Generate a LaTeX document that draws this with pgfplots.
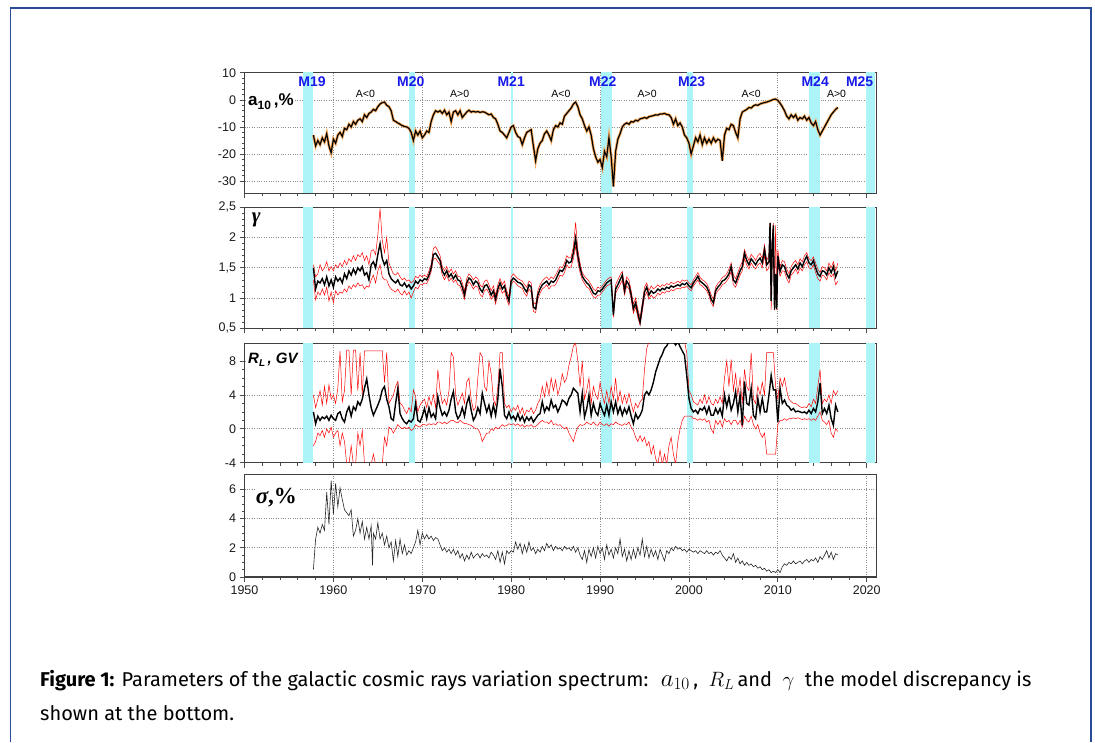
\documentclass[border=0pt]{standalone}
\usepackage{fontspec}
\setmainfont{Liberation Sans}
\newfontfamily\capfont{Fira Sans}
\newfontfamily\serif{Liberation Serif}
\usepackage{pgfplots}
\usepackage{pgfplotstable}
\pgfplotsset{compat=1.18}

\definecolor{band}{RGB}{172,244,248}
\definecolor{mblue}{RGB}{25,25,235}
\definecolor{frameblue}{RGB}{40,75,150}
\definecolor{orng}{RGB}{246,170,95}

% a10, %
\pgfplotstableread{
x y
1957.75 -13
1958.0 -17
1958.25 -15
1958.5 -16.5
1958.75 -14
1959.0 -15.5
1959.25 -12.5
1959.5 -17
1959.75 -19.5
1960.0 -14.5
1960.25 -16
1960.5 -13
1960.75 -12
1961.0 -13.5
1961.25 -10.5
1961.5 -11
1961.75 -9
1962.0 -10
1962.25 -8
1962.5 -9
1962.75 -7.5
1963.0 -7
1963.25 -8
1963.5 -5.5
1963.75 -6.5
1964.0 -5
1964.25 -4.5
1964.5 -3.5
1964.75 -4
1965.0 -2.5
1965.25 -1.5
1965.5 -1
1965.75 -0.8
1966.0 -2
1966.25 -2.5
1966.5 -4
1966.75 -7.5
1967.0 -8
1967.25 -8.5
1967.5 -9
1967.75 -9.5
1968.0 -9.8
1968.25 -10
1968.5 -10.5
1968.75 -12
1969.0 -15
1969.25 -11.5
1969.5 -13
1969.75 -11.5
1970.0 -14
1970.25 -13
1970.5 -11.5
1970.75 -12
1971.0 -8
1971.25 -5.5
1971.5 -4
1971.75 -4.5
1972.0 -4
1972.25 -5
1972.5 -3.8
1972.75 -5.5
1973.0 -4.5
1973.25 -8
1973.5 -4.5
1973.75 -4
1974.0 -5.5
1974.25 -4
1974.5 -6.5
1974.75 -5.5
1975.0 -4.5
1975.25 -3.8
1975.5 -4.5
1975.75 -4.2
1976.0 -4.5
1976.25 -4.3
1976.5 -4.6
1976.75 -4.4
1977.0 -4.5
1977.25 -5
1977.5 -5.5
1977.75 -5.2
1978.0 -6.5
1978.25 -7
1978.5 -9
1978.75 -11.5
1979.0 -12
1979.25 -13
1979.5 -14
1979.75 -12
1980.0 -10
1980.25 -9.5
1980.5 -12
1980.75 -13.5
1981.0 -14
1981.25 -16.5
1981.5 -14
1981.75 -12
1982.0 -11.5
1982.25 -11
1982.5 -17
1982.75 -22.5
1983.0 -18
1983.25 -16
1983.5 -15
1983.75 -12.5
1984.0 -11.5
1984.25 -13
1984.5 -15
1984.75 -11
1985.0 -9.5
1985.25 -10
1985.5 -8.5
1985.75 -9
1986.0 -6
1986.25 -5
1986.5 -4
1986.75 -3
1987.0 -1.5
1987.25 -0.8
1987.5 -2.5
1987.75 -5.5
1988.0 -7
1988.25 -9.5
1988.5 -11.5
1988.75 -10
1989.0 -13
1989.25 -18
1989.5 -21
1989.75 -23
1990.0 -22
1990.25 -25
1990.5 -19
1990.75 -21
1991.0 -14
1991.25 -21
1991.5 -32
1991.75 -19
1992.0 -14.5
1992.25 -12.5
1992.5 -10
1992.75 -9
1993.0 -8.5
1993.25 -9
1993.5 -8
1993.75 -8.2
1994.0 -7.5
1994.25 -7.8
1994.5 -7
1994.75 -6.8
1995.0 -6.5
1995.25 -6.8
1995.5 -6.2
1995.75 -6
1996.0 -5.8
1996.25 -5.5
1996.5 -5.6
1996.75 -5.2
1997.0 -5.2
1997.25 -5
1997.5 -5.4
1997.75 -5.5
1998.0 -6.5
1998.25 -9
1998.5 -7
1998.75 -9.5
1999.0 -8.5
1999.25 -10
1999.5 -13
1999.75 -14
2000.0 -16
2000.25 -20
2000.5 -17
2000.75 -14
2001.0 -15.5
2001.25 -13
2001.5 -16.5
2001.75 -14
2002.0 -16
2002.25 -14.5
2002.5 -16
2002.75 -14
2003.0 -15.5
2003.25 -14.5
2003.5 -15
2003.75 -22.5
2004.0 -13
2004.25 -10.5
2004.5 -11
2004.75 -9
2005.0 -9.5
2005.25 -12
2005.5 -14
2005.75 -7
2006.0 -4.5
2006.25 -4
2006.5 -3.5
2006.75 -2.8
2007.0 -3
2007.25 -2.2
2007.5 -1.8
2007.75 -2
2008.0 -1.5
2008.25 -1.2
2008.5 -1
2008.75 -0.8
2009.0 -0.5
2009.25 -0.2
2009.5 0.2
2009.75 0.3
2010.0 -0.2
2010.25 -1.2
2010.5 -2.5
2010.75 -4
2011.0 -6
2011.25 -7
2011.5 -5.5
2011.75 -6.5
2012.0 -5.5
2012.25 -7.5
2012.5 -6.5
2012.75 -7
2013.0 -6
2013.25 -7.5
2013.5 -6.5
2013.75 -8.5
2014.0 -9.5
2014.25 -8
2014.5 -11
2014.75 -13
2015.0 -11.5
2015.25 -10
2015.5 -8.5
2015.75 -7
2016.0 -5.5
2016.25 -4.5
2016.5 -3.5
2016.75 -2.8
}\tblA

% gamma: value, lower, upper
\pgfplotstableread{
x y lo hi
1957.75 1.50 1.30 1.55
1958.0 1.15 0.97 1.35
1958.25 1.28 1.10 1.40
1958.5 1.25 1.05 1.55
1958.75 1.32 1.15 1.45
1959.0 1.22 1.05 1.50
1959.25 1.35 1.18 1.60
1959.5 1.20 0.95 1.45
1959.75 1.30 1.10 1.52
1960.0 1.18 0.92 1.45
1960.25 1.35 1.12 1.55
1960.5 1.28 1.05 1.50
1960.75 1.33 1.10 1.58
1961.0 1.25 1.08 1.52
1961.25 1.40 1.15 1.62
1961.5 1.32 1.10 1.55
1961.75 1.45 1.20 1.65
1962.0 1.38 1.15 1.60
1962.25 1.48 1.22 1.70
1962.5 1.40 1.18 1.62
1962.75 1.50 1.25 1.72
1963.0 1.45 1.20 1.68
1963.25 1.52 1.22 1.75
1963.5 1.38 1.15 1.62
1963.75 1.42 1.20 1.70
1964.0 1.30 1.18 1.55
1964.25 1.55 1.30 1.78
1964.5 1.60 1.38 1.80
1964.75 1.50 1.25 1.72
1965.0 1.72 1.45 2.05
1965.25 1.90 1.55 2.48
1965.5 1.65 1.35 1.95
1965.75 1.55 1.30 1.75
1966.0 1.62 1.30 2.00
1966.25 1.40 1.20 1.58
1966.5 1.32 1.15 1.48
1966.75 1.28 1.12 1.40
1967.0 1.25 1.10 1.38
1967.25 1.30 1.15 1.42
1967.5 1.22 1.08 1.35
1967.75 1.20 1.05 1.30
1968.0 1.25 1.12 1.33
1968.25 1.18 1.05 1.28
1968.5 1.22 1.10 1.30
1968.75 1.15 1.00 1.25
1969.0 1.20 1.10 1.28
1969.25 1.28 1.18 1.36
1969.5 1.24 1.15 1.33
1969.75 1.30 1.22 1.38
1970.0 1.28 1.22 1.35
1970.25 1.32 1.25 1.38
1970.5 1.30 1.24 1.35
1970.75 1.38 1.32 1.45
1971.0 1.50 1.44 1.56
1971.25 1.72 1.65 1.82
1971.5 1.74 1.66 1.85
1971.75 1.68 1.60 1.78
1972.0 1.62 1.55 1.70
1972.25 1.45 1.38 1.52
1972.5 1.38 1.30 1.45
1972.75 1.45 1.38 1.52
1973.0 1.35 1.28 1.42
1973.25 1.40 1.33 1.48
1973.5 1.32 1.26 1.40
1973.75 1.38 1.30 1.45
1974.0 1.30 1.22 1.36
1974.25 1.28 1.20 1.35
1974.5 1.18 1.10 1.25
1974.75 1.05 0.98 1.12
1975.0 1.25 1.18 1.32
1975.25 1.33 1.27 1.40
1975.5 1.30 1.22 1.36
1975.75 1.22 1.15 1.30
1976.0 1.28 1.20 1.35
1976.25 1.25 1.18 1.32
1976.5 1.15 1.06 1.22
1976.75 1.10 1.02 1.18
1977.0 1.20 1.12 1.28
1977.25 1.22 1.15 1.30
1977.5 1.15 1.08 1.22
1977.75 1.05 0.98 1.12
1978.0 1.12 1.05 1.20
1978.25 0.98 0.90 1.05
1978.5 1.15 1.08 1.22
1978.75 1.25 1.18 1.32
1979.0 1.15 1.08 1.22
1979.25 1.20 1.12 1.28
1979.5 1.05 0.98 1.12
1979.75 0.95 0.88 1.02
1980.0 1.28 1.22 1.35
1980.25 1.33 1.28 1.40
1980.5 1.30 1.25 1.36
1980.75 1.26 1.20 1.32
1981.0 1.25 1.18 1.30
1981.25 1.22 1.16 1.28
1981.5 1.15 1.08 1.22
1981.75 1.10 1.03 1.18
1982.0 1.22 1.15 1.28
1982.25 1.18 1.10 1.25
1982.5 0.85 0.78 0.92
1982.75 0.82 0.76 0.90
1983.0 1.05 0.98 1.12
1983.25 1.15 1.08 1.22
1983.5 1.22 1.15 1.28
1983.75 1.25 1.18 1.32
1984.0 1.28 1.22 1.35
1984.25 1.22 1.15 1.30
1984.5 1.28 1.20 1.35
1984.75 1.26 1.20 1.32
1985.0 1.30 1.22 1.38
1985.25 1.38 1.30 1.45
1985.5 1.46 1.38 1.52
1985.75 1.44 1.36 1.50
1986.0 1.50 1.42 1.58
1986.25 1.62 1.55 1.70
1986.5 1.58 1.50 1.66
1986.75 1.60 1.52 1.68
1987.0 1.75 1.65 1.85
1987.25 1.99 1.85 2.25
1987.5 1.70 1.60 1.80
1987.75 1.50 1.42 1.58
1988.0 1.36 1.30 1.42
1988.25 1.30 1.24 1.36
1988.5 1.25 1.18 1.32
1988.75 1.22 1.16 1.28
1989.0 1.15 1.08 1.22
1989.25 1.08 1.02 1.15
1989.5 1.06 1.00 1.12
1989.75 1.12 1.05 1.18
1990.0 1.11 1.05 1.16
1990.25 1.15 1.10 1.20
1990.5 1.20 1.15 1.25
1990.75 1.25 1.20 1.30
1991.0 1.28 1.22 1.33
1991.25 1.30 1.25 1.35
1991.5 0.72 0.68 0.80
1991.75 1.15 1.08 1.22
1992.0 1.22 1.15 1.30
1992.25 1.30 1.22 1.38
1992.5 1.38 1.30 1.44
1992.75 1.12 1.05 1.20
1993.0 1.28 1.20 1.35
1993.25 1.22 1.15 1.30
1993.5 1.05 0.98 1.12
1993.75 0.82 0.75 0.90
1994.0 0.92 0.85 1.00
1994.25 0.75 0.68 0.82
1994.5 0.60 0.55 0.68
1994.75 0.85 0.78 0.92
1995.0 1.10 1.02 1.18
1995.25 1.18 1.10 1.25
1995.5 1.05 0.98 1.12
1995.75 1.12 1.05 1.20
1996.0 1.08 1.00 1.15
1996.25 1.10 1.02 1.18
1996.5 1.15 1.08 1.22
1996.75 1.12 1.05 1.18
1997.0 1.16 1.10 1.22
1997.25 1.14 1.08 1.20
1997.5 1.18 1.12 1.24
1997.75 1.16 1.10 1.22
1998.0 1.20 1.14 1.26
1998.25 1.18 1.12 1.24
1998.5 1.20 1.15 1.25
1998.75 1.22 1.16 1.28
1999.0 1.20 1.15 1.25
1999.25 1.24 1.18 1.30
1999.5 1.22 1.17 1.28
1999.75 1.25 1.20 1.30
2000.0 1.20 1.15 1.25
2000.25 1.17 1.12 1.22
2000.5 1.25 1.20 1.30
2000.75 1.30 1.25 1.36
2001.0 1.36 1.30 1.42
2001.25 1.28 1.22 1.34
2001.5 1.25 1.20 1.30
2001.75 1.22 1.16 1.28
2002.0 1.18 1.12 1.24
2002.25 1.10 1.04 1.16
2002.5 0.98 0.92 1.05
2002.75 0.92 0.86 0.98
2003.0 1.12 1.06 1.18
2003.25 1.18 1.12 1.24
2003.5 1.22 1.16 1.28
2003.75 1.28 1.22 1.34
2004.0 1.30 1.24 1.36
2004.25 1.34 1.28 1.40
2004.5 1.40 1.34 1.48
2004.75 1.52 1.44 1.58
2005.0 1.30 1.22 1.38
2005.25 1.25 1.18 1.32
2005.5 1.35 1.28 1.42
2005.75 1.45 1.38 1.52
2006.0 1.52 1.45 1.60
2006.25 1.74 1.65 1.80
2006.5 1.62 1.55 1.70
2006.75 1.55 1.48 1.62
2007.0 1.65 1.58 1.72
2007.25 1.60 1.52 1.68
2007.5 1.55 1.48 1.62
2007.75 1.62 1.55 1.70
2008.0 1.66 1.58 1.74
2008.25 1.58 1.50 1.65
2008.5 1.80 1.70 1.88
2008.75 1.55 1.45 1.62
2009.0 1.60 1.50 1.70
2009.125 2.24 2.10 2.25
2009.25 0.95 0.80 1.05
2009.375 1.88 1.75 2.00
2009.5 2.20 2.00 2.24
2009.625 0.81 0.80 0.95
2009.75 1.40 1.30 2.20
2009.875 0.82 0.80 1.00
2010.0 1.70 1.55 1.80
2010.25 1.44 1.36 1.52
2010.5 1.55 1.45 1.62
2010.75 1.52 1.44 1.60
2011.0 1.40 1.32 1.48
2011.25 1.33 1.25 1.40
2011.5 1.45 1.38 1.52
2011.75 1.50 1.42 1.58
2012.0 1.55 1.48 1.62
2012.25 1.48 1.40 1.55
2012.5 1.58 1.50 1.65
2012.75 1.52 1.45 1.60
2013.0 1.62 1.55 1.70
2013.25 1.69 1.60 1.75
2013.5 1.58 1.50 1.65
2013.75 1.55 1.48 1.62
2014.0 1.62 1.55 1.68
2014.25 1.50 1.42 1.58
2014.5 1.40 1.32 1.48
2014.75 1.36 1.28 1.42
2015.0 1.45 1.38 1.52
2015.25 1.44 1.36 1.50
2015.5 1.38 1.30 1.45
2015.75 1.50 1.42 1.58
2016.0 1.42 1.35 1.50
2016.25 1.52 1.40 1.60
2016.5 1.35 1.22 1.45
2016.75 1.45 1.28 1.58
}\tblG

% R_L, GV: value, lower, upper
\pgfplotstableread{
x y lo hi
1957.75 2.0 -2.0 4.0
1958.0 0.6 -1.5 2.5
1958.25 1.5 -0.5 3.5
1958.5 1.0 -0.8 4.5
1958.75 1.4 -0.2 2.8
1959.0 1.2 -1.0 5.0
1959.25 1.5 0.0 3.0
1959.5 1.0 -0.5 5.2
1959.75 1.6 0.2 3.5
1960.0 1.2 -1.0 4.0
1960.25 1.0 -0.5 3.0
1960.5 1.8 -0.2 4.8
1960.75 2.0 -2.0 9.2
1961.0 1.2 -0.5 3.2
1961.25 0.8 -1.5 4.5
1961.5 2.0 -4.2 9.3
1961.75 2.6 -4.2 9.3
1962.0 1.5 -2.0 4.0
1962.25 2.6 -4.2 9.3
1962.5 2.2 -4.2 9.3
1962.75 3.2 -0.5 4.5
1963.0 2.8 -2.0 9.0
1963.25 3.5 -0.2 4.0
1963.5 4.8 -4.2 9.2
1963.75 5.9 -4.2 9.2
1964.0 4.0 -4.2 9.2
1964.25 2.5 -4.2 9.2
1964.5 1.6 -3.0 9.2
1964.75 2.2 -4.2 9.2
1965.0 2.8 -4.2 9.2
1965.25 3.5 -4.2 9.2
1965.5 4.6 -4.2 9.2
1965.75 5.0 -1.0 5.5
1966.0 3.5 -2.0 9.0
1966.25 2.6 0.2 3.0
1966.5 1.2 0.0 3.5
1966.75 1.0 -0.5 4.0
1967.0 3.0 0.0 5.0
1967.25 4.8 0.5 5.6
1967.5 1.8 0.2 3.0
1967.75 1.2 0.0 2.8
1968.0 0.8 0.2 2.2
1968.25 0.6 0.0 1.8
1968.5 1.0 0.2 2.5
1968.75 0.8 -0.2 2.0
1969.0 1.2 0.0 4.6
1969.25 3.0 0.5 3.8
1969.5 1.0 0.3 2.0
1969.75 0.8 0.2 2.8
1970.0 1.5 0.5 3.2
1970.25 2.4 0.5 3.5
1970.5 1.2 0.4 2.5
1970.75 2.5 0.6 3.8
1971.0 1.4 0.5 2.8
1971.25 1.8 0.6 4.0
1971.5 1.2 0.5 2.5
1971.75 3.8 0.8 7.0
1972.0 2.5 0.8 4.5
1972.25 1.6 0.6 3.0
1972.5 2.0 0.8 3.5
1972.75 1.5 0.6 2.8
1973.0 2.2 0.8 4.5
1973.25 3.5 1.0 9.0
1973.5 4.4 1.0 8.5
1973.75 2.0 0.8 4.0
1974.0 1.2 0.7 2.8
1974.25 1.6 1.0 3.5
1974.5 2.5 0.8 4.2
1974.75 1.5 0.6 3.0
1975.0 3.0 0.6 5.5
1975.25 3.8 0.5 6.0
1975.5 2.2 0.4 3.5
1975.75 1.0 0.2 2.2
1976.0 1.5 0.0 2.5
1976.25 2.5 0.0 6.0
1976.5 1.8 -0.5 9.0
1976.75 4.2 -1.5 8.5
1977.0 3.0 -1.0 5.0
1977.25 2.0 -0.5 4.5
1977.5 2.8 -0.5 8.0
1977.75 1.5 0.0 6.5
1978.0 2.8 -0.2 3.5
1978.25 1.6 0.2 2.8
1978.5 3.5 0.0 5.0
1978.75 7.1 0.2 9.0
1979.0 5.0 0.5 9.0
1979.25 1.6 0.3 3.0
1979.5 1.2 0.4 2.5
1979.75 2.0 0.6 2.8
1980.0 1.2 0.5 2.0
1980.25 1.5 0.6 2.5
1980.5 1.0 0.4 2.2
1980.75 1.8 0.6 2.8
1981.0 1.0 0.3 1.8
1981.25 1.5 0.5 2.5
1981.5 0.8 0.2 1.6
1981.75 1.4 0.4 2.2
1982.0 1.0 0.3 2.0
1982.25 1.4 0.5 2.5
1982.5 0.8 0.2 1.8
1982.75 1.2 0.3 2.2
1983.0 1.6 0.5 3.0
1983.25 1.8 0.8 3.5
1983.5 3.2 1.0 5.0
1983.75 2.0 0.8 3.8
1984.0 2.6 0.8 5.5
1984.25 2.2 0.6 4.0
1984.5 3.4 1.0 6.0
1984.75 2.5 0.5 4.5
1985.0 2.8 0.6 5.8
1985.25 2.0 0.4 4.0
1985.5 2.6 0.5 5.0
1985.75 3.4 0.2 6.5
1986.0 3.2 0.0 5.5
1986.25 2.8 0.2 6.0
1986.5 3.6 -0.5 7.5
1986.75 4.0 -1.0 8.5
1987.0 4.8 -1.5 9.8
1987.25 4.5 -0.5 10.1
1987.5 4.2 0.2 8.0
1987.75 2.0 0.5 5.0
1988.0 4.2 0.4 8.0
1988.25 1.4 0.5 3.5
1988.5 2.4 0.8 4.5
1988.75 4.0 0.6 6.0
1989.0 1.6 0.5 3.0
1989.25 3.0 0.8 5.0
1989.5 2.0 0.5 4.0
1989.75 1.6 0.4 3.5
1990.0 3.0 0.8 5.5
1990.25 2.2 0.5 4.0
1990.5 1.6 0.4 3.0
1990.75 2.8 0.6 4.5
1991.0 1.6 0.3 3.0
1991.25 3.2 0.6 5.0
1991.5 2.0 0.5 3.5
1991.75 3.2 0.8 6.0
1992.0 1.8 0.6 3.2
1992.25 2.6 0.5 4.5
1992.5 1.6 0.4 3.0
1992.75 2.4 0.6 4.0
1993.0 1.8 0.5 3.0
1993.25 2.6 0.8 4.2
1993.5 1.5 0.2 3.0
1993.75 0.6 -0.2 2.0
1994.0 1.8 -1.0 3.0
1994.25 1.2 -1.5 2.5
1994.5 1.6 -0.8 3.2
1994.75 2.2 -1.5 3.5
1995.0 4.0 -1.0 7.0
1995.25 4.4 -2.0 9.5
1995.5 4.0 -1.5 10.3
1995.75 4.6 -3.0 10.3
1996.0 5.5 -2.0 10.3
1996.25 6.7 -3.5 10.3
1996.5 7.5 -4.2 10.3
1996.75 8.3 -2.5 10.3
1997.0 8.8 -4.2 10.3
1997.25 9.5 -3.0 10.3
1997.5 9.8 -4.2 10.3
1997.75 10.3 -2.0 10.3
1998.0 10.3 -1.0 10.3
1998.25 10.3 -3.0 10.3
1998.5 9.9 -4.2 10.3
1998.75 10.3 -1.5 10.3
1999.0 9.7 0.0 10.3
1999.25 9.2 1.0 10.3
1999.5 8.7 1.5 10.3
1999.75 6.3 1.5 9.0
2000.0 3.6 1.5 4.5
2000.25 2.4 1.5 4.0
2000.5 2.0 1.2 3.2
2000.75 2.2 1.2 3.0
2001.0 1.8 1.0 2.8
2001.25 2.4 1.2 3.5
2001.5 2.2 1.0 3.0
2001.75 2.6 1.2 4.0
2002.0 1.8 0.8 3.0
2002.25 2.6 1.0 3.8
2002.5 1.6 0.0 3.0
2002.75 1.6 -0.5 2.8
2003.0 2.4 1.0 3.5
2003.25 1.8 0.5 3.0
2003.5 2.4 1.0 3.8
2003.75 1.5 0.2 3.0
2004.0 4.0 1.2 6.0
2004.25 2.6 0.8 8.0
2004.5 3.8 1.0 5.0
2004.75 2.2 0.5 8.2
2005.0 3.0 1.0 4.5
2005.25 4.4 1.0 6.5
2005.5 2.0 0.5 4.0
2005.75 4.0 1.0 6.0
2006.0 0.4 0.2 3.0
2006.25 5.6 1.5 7.0
2006.5 3.0 1.0 5.0
2006.75 2.8 0.8 4.5
2007.0 4.8 1.5 9.0
2007.25 1.6 0.5 3.5
2007.5 1.2 0.0 3.0
2007.75 3.6 0.5 5.0
2008.0 2.0 -0.5 4.0
2008.25 3.6 -1.0 5.5
2008.5 2.0 -0.5 4.0
2008.75 2.0 -3.0 9.0
2009.0 4.0 -3.0 9.0
2009.25 6.3 -3.0 9.0
2009.5 4.6 -3.0 9.0
2009.75 4.6 -3.0 5.0
2010.0 0.8 0.5 3.5
2010.25 4.8 1.0 6.0
2010.5 3.0 1.0 5.0
2010.75 3.4 1.2 6.0
2011.0 2.8 1.0 4.5
2011.25 2.6 1.2 3.5
2011.5 2.2 1.2 3.2
2011.75 2.4 1.3 3.0
2012.0 2.0 1.2 3.0
2012.25 2.1 1.3 2.8
2012.5 2.0 1.2 2.6
2012.75 1.9 1.1 2.5
2013.0 2.0 1.2 2.6
2013.25 1.8 1.1 2.5
2013.5 2.2 1.2 3.0
2013.75 1.8 1.0 2.6
2014.0 2.4 1.2 3.5
2014.25 2.0 1.0 3.0
2014.5 3.2 1.5 5.0
2014.75 5.4 2.0 7.0
2015.0 1.8 1.0 3.0
2015.25 2.4 0.8 3.5
2015.5 1.8 0.5 3.2
2015.75 2.8 1.0 4.0
2016.0 1.2 -0.5 3.0
2016.25 0.4 -1.0 4.5
2016.5 2.8 0.0 4.0
2016.75 2.0 -0.3 4.5
}\tblR

% sigma, %
\pgfplotstableread{
x y
1957.75 0.5
1958.0 2.6
1958.25 3.4
1958.5 3.0
1958.75 3.6
1959.0 3.2
1959.25 5.8
1959.5 3.6
1959.75 6.6
1960.0 4.3
1960.25 6.4
1960.5 4.8
1960.75 6.1
1961.0 5.3
1961.25 4.6
1961.5 4.4
1961.75 4.2
1962.0 4.6
1962.25 2.8
1962.5 3.2
1962.75 4.0
1963.0 3.0
1963.25 3.8
1963.5 2.6
1963.75 3.4
1964.0 2.6
1964.25 3.5
1964.4 0.8
1964.5 3.0
1964.75 2.6
1965.0 3.7
1965.25 2.6
1965.5 3.0
1965.75 2.2
1966.0 2.8
1966.25 2.0
1966.5 2.4
1966.75 1.1
1967.0 2.5
1967.25 1.4
1967.5 2.6
1967.75 1.6
1968.0 2.2
1968.25 1.5
1968.5 1.8
1968.75 1.6
1969.0 2.0
1969.25 2.4
1969.5 3.2
1969.75 2.2
1970.0 3.0
1970.25 2.6
1970.5 2.9
1970.75 2.6
1971.0 2.8
1971.25 2.5
1971.5 2.7
1971.75 2.6
1972.0 2.2
1972.25 1.8
1972.5 2.0
1972.75 1.7
1973.0 1.9
1973.25 1.6
1973.5 1.9
1973.75 1.5
1974.0 1.8
1974.25 1.3
1974.5 1.6
1974.75 1.1
1975.0 1.5
1975.25 1.2
1975.5 1.7
1975.75 1.3
1976.0 1.5
1976.25 1.6
1976.5 1.3
1976.75 1.6
1977.0 1.4
1977.25 1.5
1977.5 1.3
1977.75 1.7
1978.0 1.5
1978.25 1.2
1978.5 1.8
1978.75 1.0
1979.0 1.7
1979.25 0.9
1979.5 1.8
1979.75 1.6
1980.0 1.8
1980.25 1.7
1980.5 2.4
1980.75 1.9
1981.0 2.3
1981.25 1.6
1981.5 2.2
1981.75 1.7
1982.0 2.4
1982.25 1.8
1982.5 2.0
1982.75 1.6
1983.0 1.9
1983.25 1.7
1983.5 2.1
1983.75 1.8
1984.0 2.3
1984.25 2.0
1984.5 2.2
1984.75 1.8
1985.0 2.1
1985.25 1.9
1985.5 2.0
1985.75 1.8
1986.0 2.1
1986.25 1.9
1986.5 2.0
1986.75 1.8
1987.0 2.1
1987.25 1.7
1987.5 2.0
1987.75 1.5
1988.0 1.2
1988.25 1.8
1988.5 1.0
1988.75 1.9
1989.0 1.4
1989.25 2.0
1989.5 1.3
1989.75 2.1
1990.0 1.6
1990.25 2.0
1990.5 1.2
1990.75 2.2
1991.0 1.5
1991.25 1.9
1991.5 1.3
1991.75 2.0
1992.0 1.6
1992.25 2.6
1992.5 1.4
1992.75 1.9
1993.0 1.1
1993.25 1.8
1993.5 1.2
1993.75 1.9
1994.0 1.3
1994.25 2.0
1994.5 1.5
1994.75 2.6
1995.0 1.4
1995.25 2.1
1995.5 1.3
1995.75 1.9
1996.0 1.4
1996.25 1.8
1996.5 1.2
1996.75 1.9
1997.0 1.5
1997.25 1.1
1997.5 1.8
1997.75 1.6
1998.0 2.0
1998.25 1.8
1998.5 2.1
1998.75 1.9
1999.0 2.0
1999.25 1.8
1999.5 1.9
1999.75 1.7
2000.0 1.9
2000.25 1.8
2000.5 1.7
2000.75 1.8
2001.0 1.6
2001.25 1.8
2001.5 1.7
2001.75 1.6
2002.0 1.8
2002.25 1.6
2002.5 1.7
2002.75 1.5
2003.0 1.7
2003.25 1.6
2003.5 1.8
2003.75 1.5
2004.0 1.3
2004.25 1.1
2004.5 1.4
2004.75 1.2
2005.0 1.6
2005.25 1.0
2005.5 1.3
2005.75 0.9
2006.0 1.1
2006.25 0.8
2006.5 1.0
2006.75 0.8
2007.0 0.9
2007.25 0.7
2007.5 0.8
2007.75 0.6
2008.0 0.7
2008.25 0.5
2008.5 0.6
2008.75 0.4
2009.0 0.5
2009.25 0.3
2009.5 0.4
2009.75 0.3
2010.0 0.5
2010.25 0.3
2010.5 0.7
2010.75 0.9
2011.0 0.8
2011.25 1.0
2011.5 0.9
2011.75 1.1
2012.0 0.9
2012.25 1.0
2012.5 1.1
2012.75 0.9
2013.0 1.1
2013.25 1.2
2013.5 1.0
2013.75 1.2
2014.0 1.1
2014.25 1.3
2014.5 1.0
2014.75 1.4
2015.0 1.2
2015.25 1.5
2015.5 1.8
2015.75 1.3
2016.0 1.7
2016.25 1.2
2016.5 1.6
2016.75 1.5
}\tblS

\pgfplotsset{
  panel/.style={
    scale only axis, width=632pt,
    xmin=1950, xmax=2021.1,
    xtick={1950,1960,...,2020}, minor x tick num=4,
    xticklabels={},
    xtick pos=bottom, ytick pos=left,
    tick align=outside,
    major tick length=5pt, minor tick length=3pt,
    every tick/.style={black!70, line width=0.7pt},
    axis line style={black!75, line width=1.1pt},
    grid=major,
    major grid style={black!45, dotted, line width=0.7pt},
    ticklabel style={font=\fontsize{12.5}{12.5}\selectfont, text=black!90},
    /pgf/number format/assume math mode=true,
    /pgf/number format/use comma,
    /pgf/number format/1000 sep={},
  },
}

% solar maximum bands
\newcommand{\bands}[2]{%
  \addplot[fill=band, draw=none] coordinates {(1956.6,#1)(1957.7,#1)(1957.7,#2)(1956.6,#2)} --cycle;
  \addplot[fill=band, draw=none] coordinates {(1968.5,#1)(1969.2,#1)(1969.2,#2)(1968.5,#2)} --cycle;
  \addplot[fill=band, draw=none] coordinates {(1979.95,#1)(1980.25,#1)(1980.25,#2)(1979.95,#2)} --cycle;
  \addplot[fill=band, draw=none] coordinates {(1990.05,#1)(1991.3,#1)(1991.3,#2)(1990.05,#2)} --cycle;
  \addplot[fill=band, draw=none] coordinates {(1999.8,#1)(2000.4,#1)(2000.4,#2)(1999.8,#2)} --cycle;
  \addplot[fill=band, draw=none] coordinates {(2013.5,#1)(2014.7,#1)(2014.7,#2)(2013.5,#2)} --cycle;
  \addplot[fill=band, draw=none] coordinates {(2019.9,#1)(2020.9,#1)(2020.9,#2)(2019.9,#2)} --cycle;
}

\begin{document}
\begin{tikzpicture}
\path (0,0) rectangle (1095pt,742pt);
\draw[frameblue, line width=1.4pt] (10.5pt,0) -- (10.5pt,734pt) -- (1091pt,734pt) -- (1091pt,0);

% a10
\begin{axis}[panel, at={(244.5pt,548.7pt)}, anchor=south west, height=121pt,
  ymin=-34.5, ymax=10.2, ytick={-30,-20,-10,0,10}, minor y tick num=4]
  \bands{-34.5}{10.2}
  \addplot[orng, line width=2.8pt] table[x=x,y=y] {\tblA};
  \addplot[black, line width=1.2pt] table[x=x,y=y] {\tblA};
  \node[anchor=west, fill=white, inner sep=1pt, font=\bfseries\fontsize{17}{17}\selectfont]
    at (rel axis cs:0.004,0.755) {a\raisebox{-0.45ex}{\fontsize{12}{12}\selectfont 10}\,,\%};
  \begin{scope}[every node/.style={text=mblue, font=\bfseries\fontsize{14}{14}\selectfont}]
    \node at (axis cs:1957.6,6.6) {M19};
    \node at (axis cs:1968.7,6.6) {M20};
    \node at (axis cs:1980.0,6.6) {M21};
    \node at (axis cs:1990.3,6.6) {M22};
    \node at (axis cs:2000.3,6.6) {M23};
    \node at (axis cs:2014.2,6.6) {M24};
    \node at (axis cs:2019.2,6.6) {M25};
  \end{scope}
  \begin{scope}[every node/.style={font=\fontsize{10.5}{10.5}\selectfont}]
    \node at (axis cs:1963.6,2.4) {A<0};
    \node at (axis cs:1974.2,2.4) {A>0};
    \node at (axis cs:1985.6,2.4) {A<0};
    \node at (axis cs:1995.3,2.4) {A>0};
    \node at (axis cs:2007.0,2.4) {A<0};
    \node at (axis cs:2016.6,2.4) {A>0};
  \end{scope}
\end{axis}

% gamma
\begin{axis}[panel, at={(244.5pt,413.7pt)}, anchor=south west, height=121pt,
  ymin=0.5, ymax=2.5, ytick={0.5,1,1.5,2,2.5}, minor y tick num=4]
  \bands{0.5}{2.5}
  \addplot[red, line width=0.5pt] table[x=x,y=hi] {\tblG};
  \addplot[red, line width=0.5pt] table[x=x,y=lo] {\tblG};
  \addplot[black, line width=1.4pt] table[x=x,y=y] {\tblG};
  \node[anchor=west, fill=white, inner sep=2pt, font=\serif\bfseries\itshape\fontsize{21}{21}\selectfont]
    at (rel axis cs:0.008,0.895) {γ};
\end{axis}

% R_L
\begin{axis}[panel, at={(244.5pt,279.3pt)}, anchor=south west, height=119.4pt,
  ymin=-4, ymax=10.1, ytick={-4,0,4,8}, minor y tick num=3]
  \bands{-4}{10.1}
  \addplot[red, line width=0.5pt] table[x=x,y=hi] {\tblR};
  \addplot[red, line width=0.5pt] table[x=x,y=lo] {\tblR};
  \addplot[black, line width=1.4pt] table[x=x,y=y] {\tblR};
  \node[anchor=west, fill=white, inner sep=1pt, font=\bfseries\itshape\fontsize{15}{15}\selectfont]
    at (rel axis cs:0.004,0.86) {R\raisebox{-0.4ex}{\fontsize{10}{10}\selectfont L}\,, GV};
\end{axis}

% sigma
\begin{axis}[panel, at={(244.5pt,165pt)}, anchor=south west, height=102.3pt,
  ymin=0, ymax=7, ytick={0,2,4,6}, minor y tick num=3,
  xticklabels={1950,1960,1970,1980,1990,2000,2010,2020}]
  \addplot[black!85, line width=0.6pt] table[x=x,y=y] {\tblS};
  \node[anchor=west, fill=white, inner sep=1pt, font=\serif\bfseries\fontsize{23}{23}\selectfont]
    at (rel axis cs:0.016,0.78) {\textit{σ},\%};
\end{axis}

% caption
\node[anchor=base west, inner sep=0, font=\capfont\fontsize{20}{20}\selectfont] at (40pt,56pt)
  {\textbf{Figure 1:} Parameters of the galactic cosmic rays variation spectrum: \ {\fontsize{26}{26}\selectfont$a_{10}$}\,, \ {\fontsize{22}{22}\selectfont$R_L$}\,and \ {\fontsize{22}{22}\selectfont$\gamma$} \ the model discrepancy is};
\node[anchor=base west, inner sep=0, font=\capfont\fontsize{20}{20}\selectfont] at (40pt,22pt)
  {shown at the bottom.};
\end{tikzpicture}
\end{document}
